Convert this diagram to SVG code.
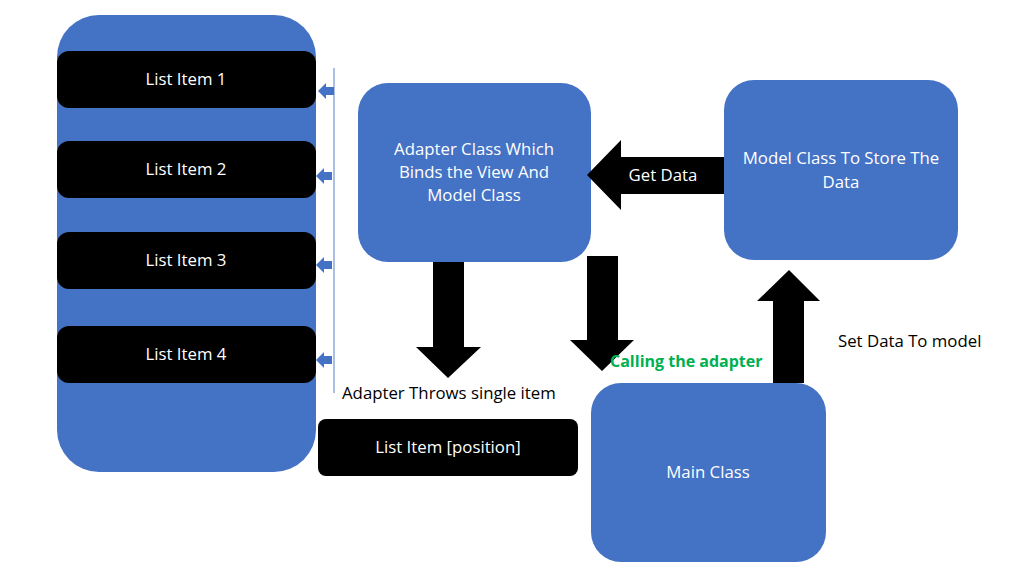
<svg xmlns="http://www.w3.org/2000/svg" width="1024" height="576" viewBox="0 0 1024 576">
<style>
.b{fill:#4472c4}
.k{fill:#000}
text{font-family:"Open Sans","Noto Sans",sans-serif;font-size:16.8px}
.w{fill:#fff}
.g{fill:#00b050;font-weight:bold;font-size:16px}
</style>
<rect width="1024" height="576" fill="#fff"/>
<g id="list"><rect class="b" x="57" y="15" width="259" height="457" rx="42"/></g>
<g id="item1"><rect class="k" x="57" y="51" width="259" height="57" rx="12"/><text class="w" x="186" y="85" text-anchor="middle">List Item 1</text></g>
<g id="item2"><rect class="k" x="57" y="141" width="259" height="57" rx="12"/><text class="w" x="186" y="175" text-anchor="middle">List Item 2</text></g>
<g id="item3"><rect class="k" x="57" y="232" width="259" height="57" rx="12"/><text class="w" x="186" y="266" text-anchor="middle">List Item 3</text></g>
<g id="item4"><rect class="k" x="57" y="326" width="259" height="57" rx="12"/><text class="w" x="186" y="360" text-anchor="middle">List Item 4</text></g>
<g id="adapter"><rect class="b" x="358" y="83" width="233" height="179" rx="30"/><text class="w" text-anchor="middle"><tspan x="474" y="155">Adapter Class Which</tspan><tspan x="474" y="178">Binds the View And</tspan><tspan x="474" y="201">Model Class</tspan></text></g>
<g id="model"><rect class="b" x="724" y="80" width="234" height="180" rx="30"/><text class="w" text-anchor="middle"><tspan x="841" y="164">Model Class To Store The</tspan><tspan x="841" y="188">Data</tspan></text></g>
<g id="main"><rect class="b" x="591" y="383" width="235" height="179" rx="30"/><text class="w" x="708" y="478" text-anchor="middle">Main Class</text></g>
<g id="position"><rect class="k" x="318" y="419" width="260" height="57" rx="8"/><text class="w" x="448" y="453" text-anchor="middle">List Item [position]</text></g>
<g id="connectors">
<line x1="334" y1="68" x2="334" y2="393" stroke="#8faadc" stroke-width="1.5"/>
<path class="b" d="M318 91 L326 83 L326 87 L334 87 L334 95 L326 95 L326 99 Z"/>
<path class="b" d="M316 176 L324 168 L324 172 L332 172 L332 180 L324 180 L324 184 Z"/>
<path class="b" d="M316 265 L324 257 L324 261 L332 261 L332 269 L324 269 L324 273 Z"/>
<path class="b" d="M316 360 L324 352 L324 356 L332 356 L332 364 L324 364 L324 368 Z"/>
<path class="k" d="M587 175 L621 140 L621 157 L724 157 L724 194 L621 194 L621 210 Z"/>
<path class="k" d="M433 262 L464 262 L464 347 L481 347 L448 378 L416 347 L433 347 Z"/>
<path class="k" d="M587 256 L618 256 L618 340 L634 340 L602 371 L570 340 L587 340 Z"/>
<path class="k" d="M773 383 L804 383 L804 301 L820 301 L789 270 L757 301 L773 301 Z"/>
</g>
<text class="w" x="663" y="181" text-anchor="middle">Get Data</text>
<text x="342" y="399">Adapter Throws single item</text>
<text class="g" x="610" y="367">Calling the adapter</text>
<text x="838" y="347">Set Data To model</text>
</svg>
